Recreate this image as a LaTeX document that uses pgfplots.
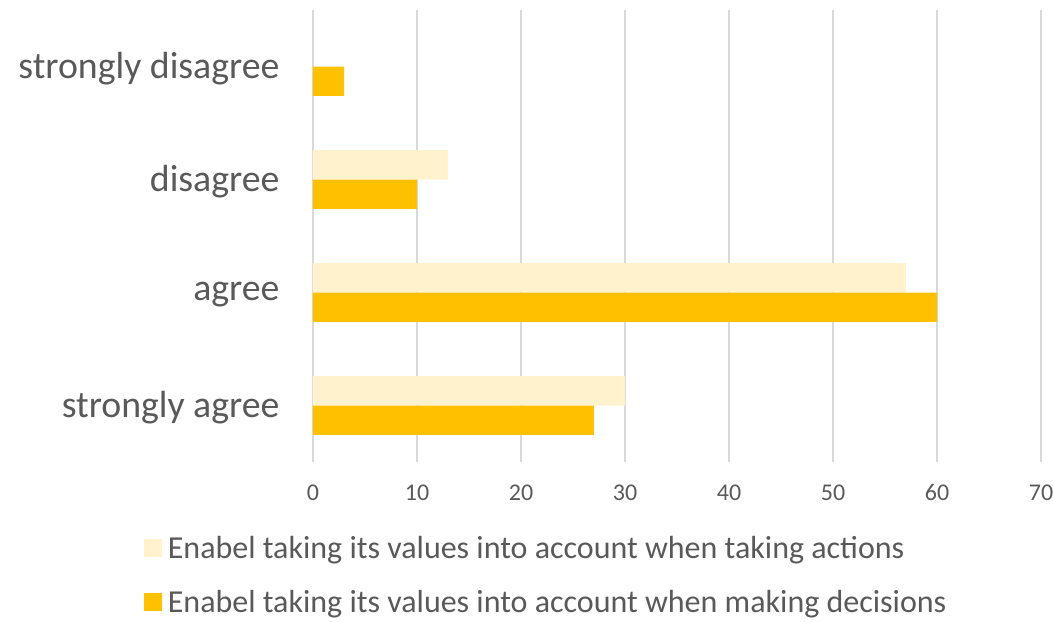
\documentclass[border=0pt]{standalone}
\usepackage{pgfplots}
\pgfplotsset{compat=1.18}
\usepackage{fontspec}
\setmainfont{Carlito}
\definecolor{dark}{HTML}{FFC000}
\definecolor{light}{HTML}{FFF2CC}
\definecolor{txt}{HTML}{595959}
\definecolor{grd}{HTML}{D9D9D9}
\begin{document}
\begin{tikzpicture}
\begin{axis}[name=ax, scale only axis, width=728pt, height=452pt,
 xmin=0, xmax=70, ymin=-0.5, ymax=3.5,
 xtick={0,10,...,70}, ytick={0,1,2,3},
 yticklabels={strongly agree, agree, disagree, strongly disagree},
 axis line style={draw=none}, major tick length=0pt,
 xmajorgrids, major grid style={grd, line width=1.5pt},
 xbar, bar width=0.26,
 y tick label style={font=\fontsize{37.8}{42}\selectfont, text=txt, xshift=-30pt, yshift=-2pt},
 x tick label style={font=\fontsize{24}{28}\selectfont, text=txt, yshift=-19pt},
 /pgf/number format/assume math mode=true,
 legend style={at={(-0.234,-0.157)}, anchor=north west, draw=none, fill=none,
   font=\fontsize{32}{36}\selectfont, text=txt, row sep=26pt, inner sep=1pt,
   /tikz/every odd column/.style={column sep=4pt}},
 legend cell align=left,
 legend image code/.code={\fill[#1] (0pt,-9pt) rectangle (18pt,9pt);},
]
\addplot[fill=light, draw=none, bar shift=0.13] coordinates {(30,0) (57,1) (13,2)};
\addlegendentry{Enabel taking its values into account when taking actions}
\addplot[fill=dark, draw=none, bar shift=-0.13] coordinates {(27,0) (60,1) (10,2) (3,3)};
\addlegendentry{Enabel taking its values into account when making decisions}
\end{axis}
\pgfresetboundingbox
\path[use as bounding box] ([xshift=-313pt,yshift=-159pt]ax.south west) rectangle ([xshift=12pt,yshift=10pt]ax.north east);
\end{tikzpicture}
\end{document}
